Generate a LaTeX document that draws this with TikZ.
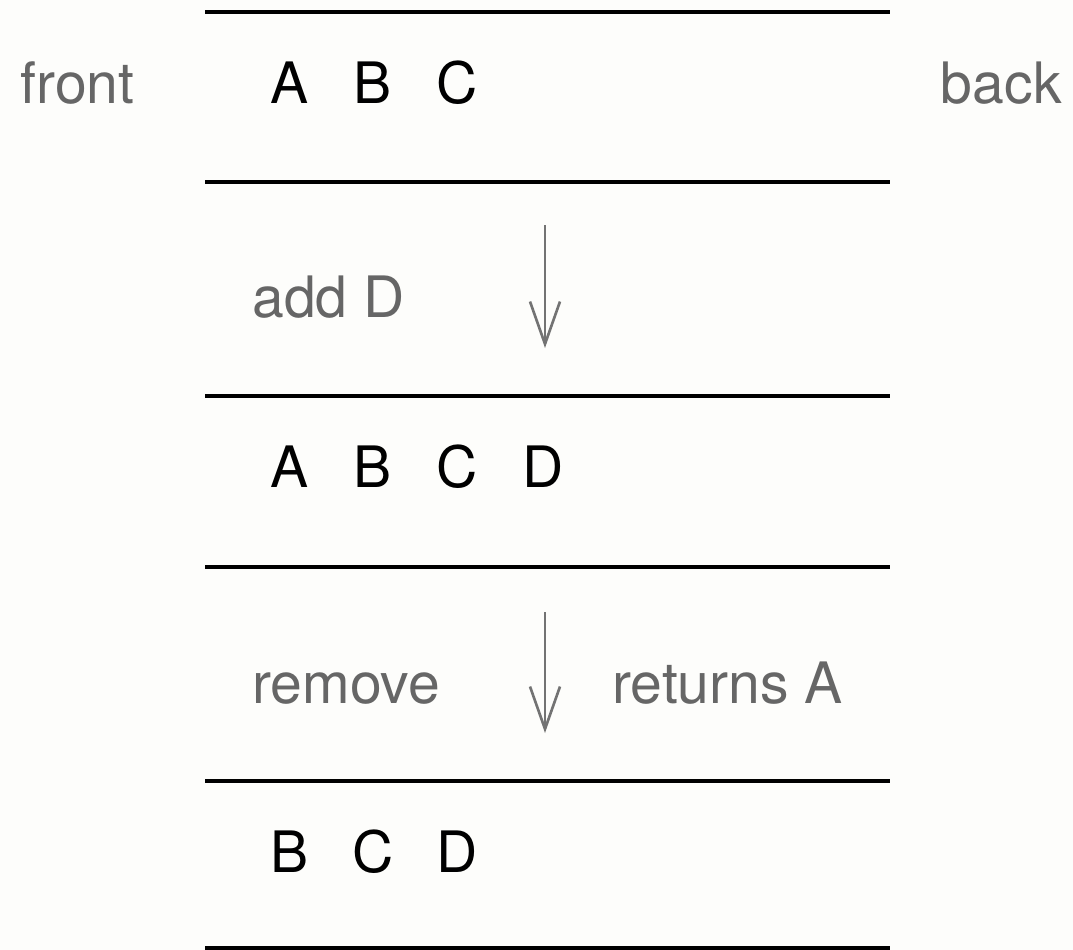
\documentclass[tikz,border=0pt]{standalone}
\usepackage{fontspec}
\setmainfont{TeX Gyre Heros}
\usetikzlibrary{arrows.meta}

\begin{document}
\begin{tikzpicture}[
	x=0.02cm, y=-0.02cm,
	> = {Straight Barb[length=8.5mm, width=6mm]},
	item/.style = {anchor=base, inner sep=0mm,
		font=\fontsize{32.5}{38}\selectfont},
	note/.style = {item, anchor=base west, text=black!60},
	sep/.style = {line width=1.9pt},
	move/.style = {->, draw=black!55, line width=1.5pt},
	]
	\useasboundingbox[fill={rgb,255:red,253;green,253;blue,251}] (0,0) rectangle (1073,950);
	% separators
	\foreach \y in {12,182,396,567,781,948}
		\draw[sep] (205,\y) -- (890,\y);
	% queue states
	\foreach \l/\x in {A/290,B/373,C/457}
		\node[item] (top\l) at (\x,103) {\l};
	\foreach \l/\x in {A/290,B/373,C/457,D/543}
		\node[item] (mid\l) at (\x,487) {\l};
	\foreach \l/\x in {B/290,C/373,D/457}
		\node[item] (low\l) at (\x,872) {\l};
	% ends of the queue
	\node[note] (front) at (20,103) {front};
	\node[note, anchor=base east] (back) at (1062,103) {back};
	% operations
	\node[note] (add) at (252,317) {add D};
	\coordinate (addS) at (545,225);
	\coordinate (addE) at (545,348);
	\draw[move] (addS) -- (addE);
	\node[note] (remove) at (252,703) {remove};
	\coordinate (remS) at (545,612);
	\coordinate (remE) at (545,733);
	\draw[move] (remS) -- (remE);
	\node[note] (returns) at (612,703) {returns A};
\end{tikzpicture}
\end{document}
